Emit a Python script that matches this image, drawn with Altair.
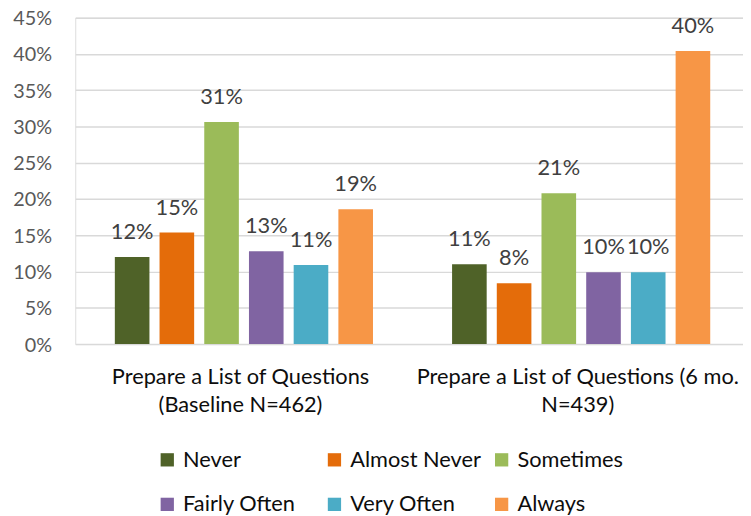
import altair as alt
import pandas as pd

groups = ["Prepare a List of Questions (Baseline N=462)",
          "Prepare a List of Questions (6 mo. N=439)"]
group_labels = {
    groups[0]: ["Prepare a List of Questions", "(Baseline N=462)"],
    groups[1]: ["Prepare a List of Questions (6 mo.", "N=439)"],
}
series = ["Never", "Almost Never", "Sometimes", "Fairly Often", "Very Often", "Always"]
colors = ["#4F6228", "#E46C0A", "#9BBB59", "#8064A2", "#4BACC6", "#F79646"]
baseline_vals = [0.120, 0.154, 0.306, 0.128, 0.109, 0.186]
six_mo_vals = [0.110, 0.084, 0.208, 0.099, 0.099, 0.404]

rows = []
for s, v in zip(series, baseline_vals):
    rows.append({"group": groups[0], "series": s, "value": v})
for s, v in zip(series, six_mo_vals):
    rows.append({"group": groups[1], "series": s, "value": v})
df = pd.DataFrame(rows)

FONT = "Lato"

label_expr = ("datum.value == '%s' ? %s : %s" % (
    groups[0],
    str(group_labels[groups[0]]).replace('"', "'"),
    str(group_labels[groups[1]]).replace('"', "'"),
))

x = alt.X("group:N", sort=groups, title=None,
          scale=alt.Scale(paddingInner=0.02, paddingOuter=0),
          axis=alt.Axis(labelExpr=label_expr, labelAngle=0, labelFont=FONT,
                        labelFontSize=22, labelColor="#0d0d0d", labelLineHeight=28,
                        labelPadding=23, ticks=False, domain=False, labelLimit=400))
xo = alt.XOffset("series:N", sort=series,
                 scale=alt.Scale(paddingInner=0.226, paddingOuter=0.809, align=0.547))
y = alt.Y("value:Q", title=None,
          scale=alt.Scale(domain=[0, 0.45], nice=False),
          axis=alt.Axis(format=".0%", values=[i * 0.05 for i in range(10)],
                        labelFont=FONT, labelFontSize=20, labelColor="#595959",
                        labelPadding=24, labelOffset=1, ticks=False, domain=False,
                        gridColor="#d9d9d9", gridWidth=1.5))

color = alt.Color("series:N", sort=series, title=None,
                  scale=alt.Scale(domain=series, range=colors),
                  legend=alt.Legend(orient="none", legendX=82, legendY=436,
                                    direction="horizontal", columns=3,
                                    gridAlign="all", columnPadding=9, rowPadding=23,
                                    symbolType="square", symbolSize=180,
                                    symbolStrokeWidth=0, symbolOpacity=1,
                                    labelFont=FONT, labelFontSize=22,
                                    labelColor="#0d0d0d", labelOffset=5,
                                    labelLimit=300))

base = alt.Chart(df).encode(x=x, xOffset=xo, y=y)
bars = base.mark_bar(opacity=1).encode(color=color)
labels = base.mark_text(baseline="bottom", dy=-13, font=FONT, fontSize=22,
                        color="#404040").encode(text=alt.Text("value:Q", format=".0%"))

chart = (bars + labels).properties(
    width=675, height=330,
    autosize=alt.AutoSizeParams(type="none"),
    padding={"left": 68, "top": 7, "right": 0, "bottom": 170},
).configure_view(stroke=None).configure(background="white")

chart.save("out.html", embed_options={"renderer": "svg", "actions": False})
